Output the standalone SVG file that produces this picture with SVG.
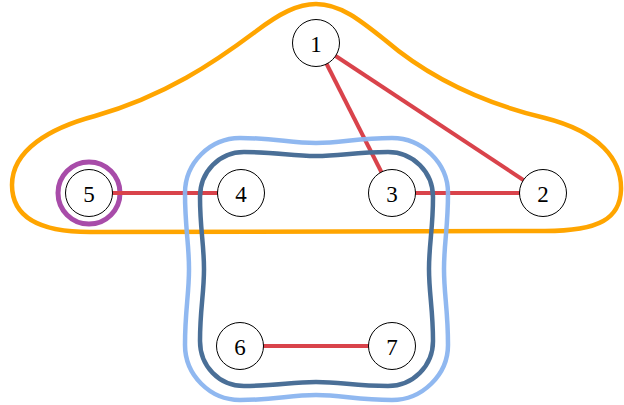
<svg xmlns="http://www.w3.org/2000/svg" width="624" height="405" viewBox="0 0 624 405">
<style>
.node circle{fill:#fff;stroke:#000;stroke-width:1}
.node text{font-family:"Liberation Serif","DejaVu Serif",serif;font-size:23px;text-anchor:middle;dominant-baseline:central;fill:#000}
.edge{stroke:#d9434b;stroke-width:4;fill:none}
.hull{fill:none;stroke-width:4.5;stroke-linejoin:round}
</style>
<rect width="624" height="405" fill="#fff"/>
<g id="hulls-back">
<path class="hull" stroke="#ffa500" d="M 316,4 C 340,4 360,20 385,40 C 420,70 470,100 545,118 C 600,132 622,160 621,190 C 620,218 600,231 545,231 L 90,232 C 40,232 12,218 12,185 C 12,150 50,128 95,116 C 165,96 215,62 255,32 C 280,13 298,4 316,4 Z"/>
<circle cx="89" cy="193" r="31" fill="none" stroke="#a84ca9" stroke-width="5"/>
</g>
<g id="connectors">
<line class="edge" x1="89" y1="193" x2="240" y2="193"/>
<line class="edge" x1="392" y1="193" x2="543" y2="193"/>
<line class="edge" x1="316" y1="43" x2="392" y2="193"/>
<line class="edge" x1="316" y1="43" x2="543" y2="193"/>
<line class="edge" x1="240" y1="346" x2="392" y2="346"/>
</g>
<g id="hulls-front">
<path class="hull" stroke="#8ab4ef" stroke-opacity="0.95" d="M 240,138 C 275,138 290,143 316,143 C 342,143 357,138 392,138 C 422,138 448,163 448,193 C 448,228 444,243 444,269 C 444,295 448,310 448,345 C 448,375 422,400 392,400 C 357,400 342,395 316,395 C 290,395 275,400 240,400 C 210,400 185,375 185,345 C 185,310 189,295 189,269 C 189,243 185,228 185,193 C 185,163 210,138 240,138 Z"/>
<path class="hull" stroke="#4a6f97" d="M 244,152 C 277,152 291,156 316,156 C 341,156 355,152 388,152 C 413,152 433,172 433,197 C 433,229 429,244 429,269 C 429,294 433,309 433,341 C 433,366 413,386 388,386 C 355,386 341,382 316,382 C 291,382 277,386 244,386 C 219,386 200,366 200,341 C 200,309 204,294 204,269 C 204,244 200,229 200,197 C 200,172 219,152 244,152 Z"/>
</g>
<g id="node1" class="node"><circle cx="316" cy="43" r="23.5"/><text x="316" y="44">1</text></g>
<g id="node2" class="node"><circle cx="543" cy="193" r="23.5"/><text x="543" y="194">2</text></g>
<g id="node3" class="node"><circle cx="392" cy="193" r="23.5"/><text x="392" y="194">3</text></g>
<g id="node4" class="node"><circle cx="241" cy="193" r="23.5"/><text x="241" y="194">4</text></g>
<g id="node5" class="node"><circle cx="89" cy="193" r="23.5"/><text x="89" y="194">5</text></g>
<g id="node6" class="node"><circle cx="240" cy="346" r="23.5"/><text x="240" y="347">6</text></g>
<g id="node7" class="node"><circle cx="392" cy="346" r="23.5"/><text x="392" y="347">7</text></g>
</svg>
